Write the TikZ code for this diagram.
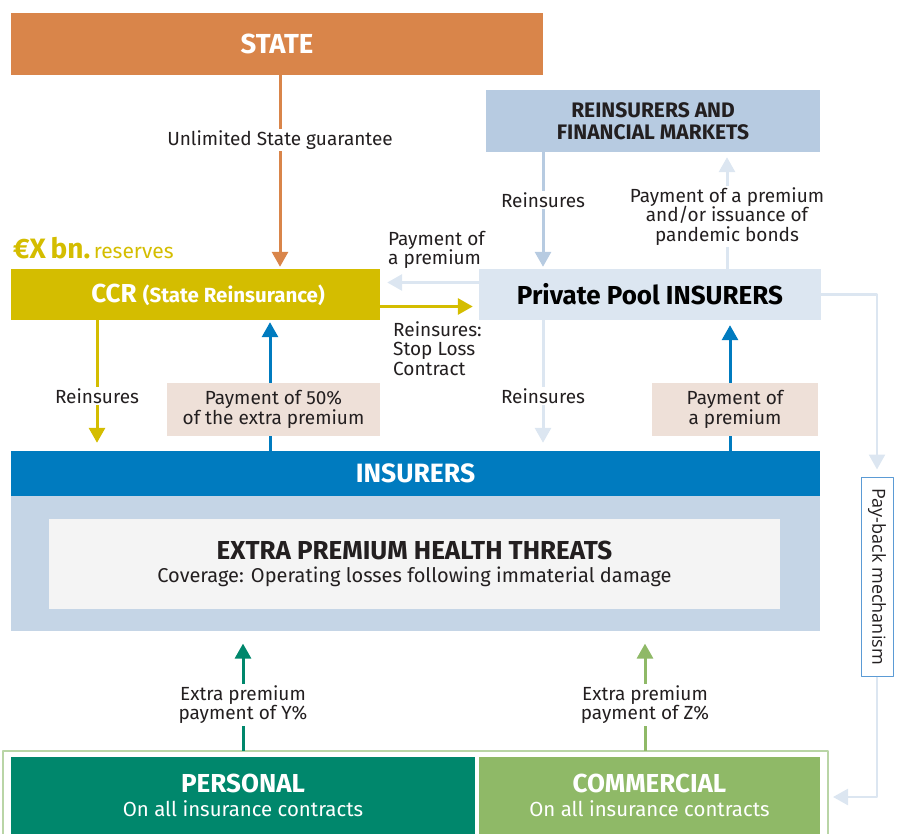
\documentclass[tikz,border=0pt]{standalone}
\usepackage{fontspec}
\setmainfont{Fira Sans}
\newfontfamily\notefont{Open Sans}
\usetikzlibrary{arrows.meta, calc, positioning}
\definecolor{cfstate}{HTML}{D9854A}
\definecolor{cfccr}{HTML}{D4BD00}
\definecolor{cfreins}{HTML}{B7CBE1}
\definecolor{cfpool}{HTML}{DCE6F1}
\definecolor{cfins}{HTML}{007BBF}
\definecolor{cfbody}{HTML}{C5D5E6}
\definecolor{cfinner}{HTML}{F4F4F4}
\definecolor{cfbeige}{HTML}{EEE0D8}
\definecolor{cfpers}{HTML}{00876C}
\definecolor{cfcomm}{HTML}{8FB967}
\definecolor{cfframe}{HTML}{B9D5A6}
\definecolor{cfpay}{HTML}{5B9BD5}
\definecolor{cftext}{HTML}{231F20}
\newcommand{\lblsize}{\fontsize{19}{19.5}\selectfont}
\tikzset{
  every picture/.style={line join=round},
  band/.style={rectangle, inner sep=0pt, text=white, align=center,
    font=\bfseries\fontsize{26}{28}\selectfont},
  tag/.style={rectangle, fill=cfbeige, text=cftext, inner sep=0pt, align=center,
    font=\lblsize},
  lbl/.style={fill=white, text=cftext, inner sep=1.5pt, align=center, font=\lblsize},
  flow/.style={-{Triangle[length=15pt, width=16pt]}, line width=3pt},
  thin flow/.style={flow, line width=2.5pt},
}

\begin{document}
\begin{tikzpicture}[x=1pt, y=-1pt]
\useasboundingbox (0,0) rectangle (900,834);

% ---- state and the two reinsurance levels
\node[band, fill=cfstate, minimum width=532pt, minimum height=62pt,
  font=\bfseries\fontsize{27.5}{30}\selectfont] (state) at (277,44) {STATE};
\node[band, fill=cfccr, minimum width=369pt, minimum height=51pt] (ccr) at (195.5,294.5)
  {\hspace*{25pt}CCR {\fontsize{20.5}{22}\selectfont(State Reinsurance)}};
\node[anchor=base west, text=cfccr, inner sep=0pt] (reserve) at (13,259)
  {{\bfseries\fontsize{28}{30}\selectfont €X\,bn.} {\fontsize{21}{24}\selectfont reserves}};
\node[band, fill=cfreins, text=cftext, minimum width=334pt, minimum height=62pt,
  font=\bfseries\fontsize{21}{22}\selectfont] (reins) at (653,121)
  {REINSURERS AND\\FINANCIAL MARKETS};
\node[band, fill=cfpool, text=black, minimum width=342pt, minimum height=51pt] (pool)
  at (650,294.5) {Private Pool INSURERS};

% ---- insurers and the extra premium
\node[band, fill=cfins, minimum width=809pt, minimum height=45pt,
  font=\bfseries\fontsize{26.5}{28}\selectfont] (insurers) at (415.5,473.5) {INSURERS};
\node[fill=cfbody, minimum width=809pt, minimum height=135pt, inner sep=0pt, below=0pt of insurers]
  (body) {};
\node[fill=cfinner, minimum width=731pt, minimum height=90pt, inner sep=0pt, align=center,
  text=cftext, font=\fontsize{20}{22.5}\selectfont] (threats) at (414.5,564)
  {{\bfseries\fontsize{26}{22.5}\selectfont EXTRA PREMIUM HEALTH THREATS}\\
   Coverage: Operating losses following immaterial damage};

% ---- policy holders
\draw[cfframe, line width=2pt, fill=white] (3,751) rectangle (828,850);
\coordinate (frametop) at (415,751);
\node[band, fill=cfpers, minimum width=464pt, minimum height=77pt,
  font=\fontsize{20.4}{24}\selectfont] (personal) at (243,795.5)
  {{\bfseries\fontsize{26}{27}\selectfont PERSONAL}\\On all insurance contracts};
\node[band, fill=cfcomm, minimum width=341pt, minimum height=77pt,
  font=\fontsize{20.4}{24}\selectfont] (commercial) at (649.5,795.5)
  {{\bfseries\fontsize{26}{27}\selectfont COMMERCIAL}\\On all insurance contracts};

% ---- pay-back
\node[draw=cfpay, fill=white, line width=1pt, minimum width=32pt, minimum height=199pt,
  inner sep=0pt, text=cftext, font=\notefont\fontsize{18}{20}\selectfont] (payback)
  at (877,576.5) {\rotatebox{-90}{Pay-back mechanism}};
\coordinate (backin) at (833,797);

% ---- vertical flows
\coordinate (xl) at (97,0);
\coordinate (xg) at (280,0);
\coordinate (xm) at (270,0);
\coordinate (xr) at (543,0);
\coordinate (xp) at (727,0);
\coordinate (xq) at (730,0);
\coordinate (xy) at (243,0);
\coordinate (xz) at (645,0);

\draw[flow, cfstate] (state.south -| xg) -- node[lbl, pos=0.34] {Unlimited State guarantee}
  ([yshift=2pt]ccr.north -| xg);
\draw[flow, cfreins] (reins.south -| xr) -- node[lbl, pos=0.42] {Reinsures}
  ([yshift=2pt]pool.north -| xr);
\draw[flow, cfpool] (pool.north -| xp) -- node[lbl, pos=0.47] {Payment of a premium\\and/or issuance of\\pandemic bonds}
  ([yshift=-5pt]reins.south -| xp);
\draw[flow, cfccr] (ccr.south -| xl) -- node[lbl, pos=0.62] {Reinsures}
  ([yshift=8pt]insurers.north -| xl);
\draw[flow, cfpool] (pool.south -| xr) -- node[lbl, pos=0.62] {Reinsures}
  ([yshift=8pt]insurers.north -| xr);
\draw[flow, cfins] (insurers.north -| xm) -- ([yshift=-2pt]ccr.south -| xm);
\node[tag, minimum width=213pt, minimum height=53pt] at (273.5,409.5)
  {Payment of 50\%\\of the extra premium};
\draw[flow, cfins] (insurers.north -| xq) -- ([yshift=-5pt]pool.south -| xq);
\node[tag, minimum width=166pt, minimum height=53pt] at (735,409.5)
  {Payment of\\a premium};
\draw[flow, cfpers] (frametop -| xy) -- node[lbl, pos=0.43] {Extra premium\\payment of Y\%}
  ([yshift=-12pt]body.south -| xy);
\draw[flow, cfcomm] (frametop -| xz) -- node[lbl, pos=0.43] {Extra premium\\payment of Z\%}
  ([yshift=-12pt]body.south -| xz);

% ---- horizontal flows between CCR and the pool
\draw[flow, cfpool] ([yshift=12pt]pool.west) -- ([xshift=7pt, yshift=12pt]ccr.east);
\node[lbl, anchor=south west, align=left, inner sep=0pt] at (388,269) {Payment of\\a premium};
\draw[flow, cfccr] ([yshift=-12pt]ccr.east) -- ([xshift=-6pt, yshift=-12pt]pool.west);
\node[lbl, anchor=north west, align=left, inner sep=0pt] at (393,321) {Reinsures:\\Stop Loss\\Contract};

% ---- pay-back loop
\draw[thin flow, cfpool] (pool.east) -| ([yshift=7pt]payback.north);
\draw[thin flow, cfpool] (payback.south) |- (backin);

\end{tikzpicture}
\end{document}
